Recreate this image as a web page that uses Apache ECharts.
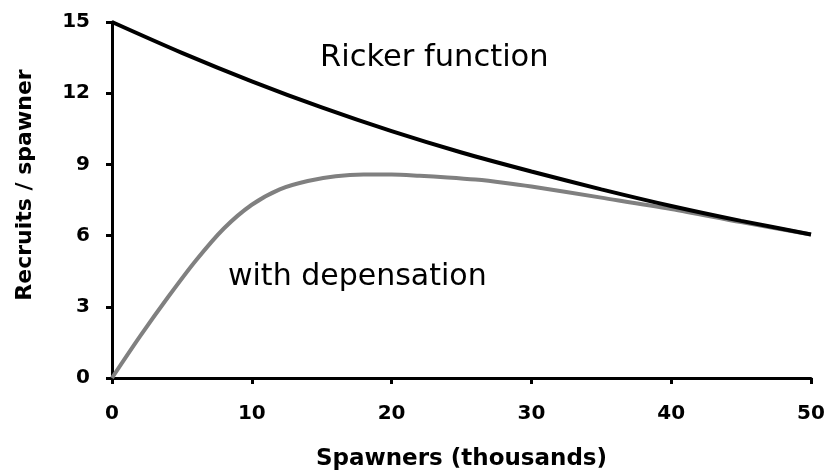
<!DOCTYPE html>
<html>
<head>
<meta charset="utf-8">
<script src="https://cdn.jsdelivr.net/npm/echarts@6/dist/echarts.min.js"></script>
<style>html,body{margin:0;padding:0;background:#fff;}#c{width:828px;height:476px;}</style>
</head>
<body>
<div id="c"></div>
<script>
const rickerX = [0, 5, 10, 15, 20, 25, 30, 35, 40, 45, 50];
const rickerY = [15, 13.7, 12.5, 11.4, 10.4, 9.5, 8.7, 7.95, 7.25, 6.62, 6.05];
const depensX = [0, 2, 4, 6, 8, 10, 12, 14, 16, 18, 20, 22, 24, 26, 28, 30, 35, 40, 45, 50];
const depensY = [0, 1.75, 3.4, 4.95, 6.3, 7.3, 7.95, 8.3, 8.5, 8.57, 8.57, 8.52, 8.45, 8.36, 8.23, 8.07, 7.6, 7.12, 6.57, 6.05];
const xTicks = [0, 10, 20, 30, 40, 50];
const yTicks = [0, 3, 6, 9, 12, 15];
const labelRicker = 'Ricker function';
const labelDepens = 'with depensation';
const xTitle = 'Spawners (thousands)';
const yTitle = 'Recruits / spawner';

const FONT = '"Comic Sans MS", "DejaVu Sans", sans-serif';
const chart = echarts.init(document.getElementById('c'));
const axisCommon = {
  axisLine: {show: true, onZero: false, lineStyle: {color: '#000', width: 3}},
  axisTick: {show: true, inside: false, length: 6, lineStyle: {color: '#000', width: 3}},
  splitLine: {show: false},
  axisLabel: {color: '#000', fontWeight: 'bold', fontSize: 20, fontFamily: FONT}
};
chart.setOption({
  animation: false,
  backgroundColor: '#fff',
  grid: {left: 112, right: 17, top: 22, bottom: 97, containLabel: false},
  xAxis: Object.assign({}, axisCommon, {
    type: 'value', min: xTicks[0], max: xTicks[xTicks.length - 1], interval: 10,
    name: xTitle, nameLocation: 'middle', nameGap: 70,
    nameTextStyle: {color: '#000', fontWeight: 'bold', fontSize: 23, fontFamily: FONT},
    axisLabel: Object.assign({}, axisCommon.axisLabel, {margin: 26})
  }),
  yAxis: Object.assign({}, axisCommon, {
    type: 'value', min: yTicks[0], max: yTicks[yTicks.length - 1], interval: 3,
    name: yTitle, nameLocation: 'middle', nameGap: 76, nameRotate: 90,
    nameTextStyle: {color: '#000', fontWeight: 'bold', fontSize: 22, fontFamily: FONT, padding: [0, 0, 0, 30]},
    axisLabel: Object.assign({}, axisCommon.axisLabel, {margin: 22})
  }),
  series: [
    {
      type: 'line', name: 'with depensation', showSymbol: false, smooth: 0.3,
      data: depensX.map((x, i) => [x, depensY[i]]),
      lineStyle: {color: '#808080', width: 4}, z: 2
    },
    {
      type: 'line', name: 'Ricker', showSymbol: false, smooth: 0.3,
      data: rickerX.map((x, i) => [x, rickerY[i]]),
      lineStyle: {color: '#000', width: 4}, z: 3
    }
  ],
  graphic: [
    {type: 'text', left: 320, top: 43, style: {text: labelRicker, fontSize: 30.5, fontFamily: FONT, fill: '#000'}},
    {type: 'text', left: 228, top: 262, style: {text: labelDepens, fontSize: 30, fontFamily: FONT, fill: '#000'}}
  ]
});
</script>
</body>
</html>
